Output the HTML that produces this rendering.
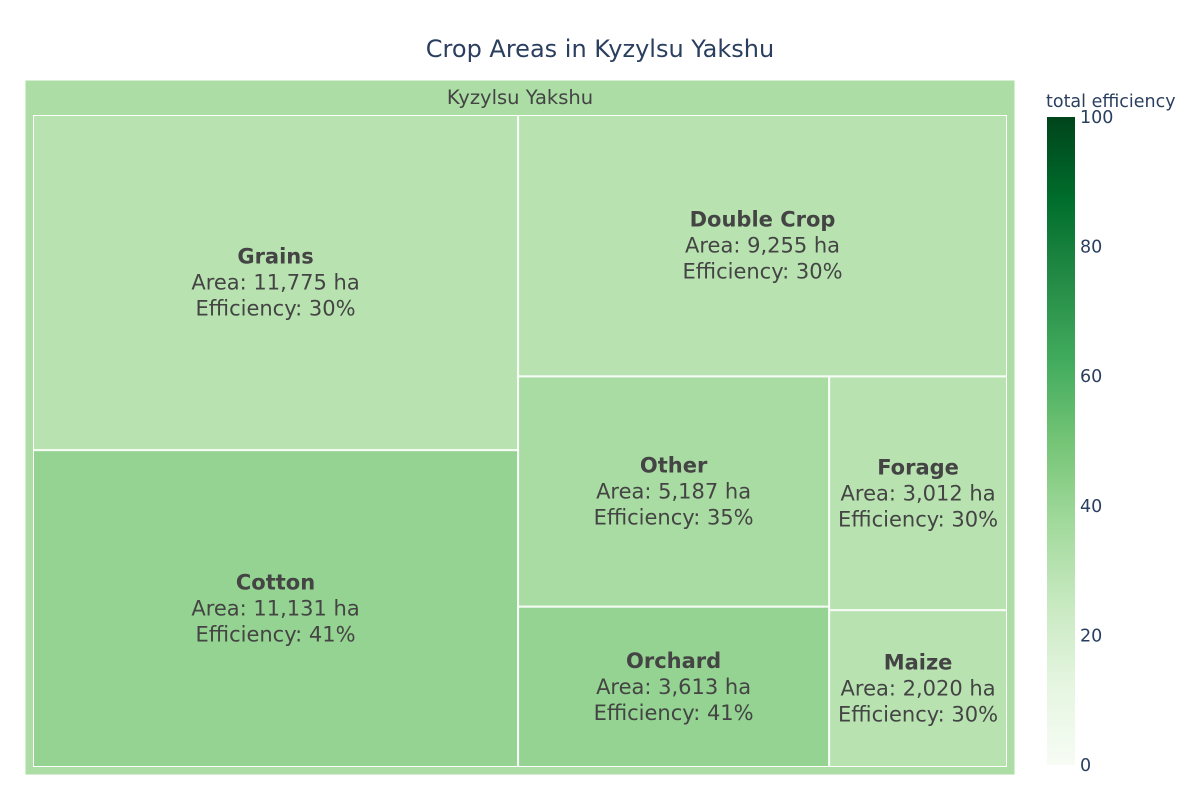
<!DOCTYPE html>
<html><head><meta charset="utf-8"><style>
body{margin:0;background:#fff;}
svg{font-family:"DejaVu Sans","Liberation Sans",sans-serif;}
</style></head><body>
<svg id="chart" width="1200" height="800">
<defs><linearGradient id="cb" x1="0" y1="1" x2="0" y2="0">
<stop offset="0" stop-color="rgb(247,252,245)"/><stop offset="0.125" stop-color="rgb(229,245,224)"/>
<stop offset="0.25" stop-color="rgb(199,233,192)"/><stop offset="0.375" stop-color="rgb(161,217,155)"/>
<stop offset="0.5" stop-color="rgb(116,196,118)"/><stop offset="0.625" stop-color="rgb(65,171,93)"/>
<stop offset="0.75" stop-color="rgb(35,139,69)"/><stop offset="0.875" stop-color="rgb(0,109,44)"/>
<stop offset="1" stop-color="rgb(0,68,27)"/></linearGradient></defs>
<text x="600" y="57" text-anchor="middle" font-size="24" fill="#2a3f5f">Crop Areas in Kyzylsu Yakshu</text>
<g id="tiles"></g>
<text x="1046" y="107" font-size="17.5" fill="#2a3f5f">total efficiency</text>
<rect x="1047" y="117" width="28" height="648" fill="url(#cb)"/>
<g id="cbticks"></g>
</svg>
<script>
const rootName = "Kyzylsu Yakshu";
const crops = ["Grains","Cotton","Double Crop","Other","Orchard","Forage","Maize"];
const areas = [11775,11131,9255,5187,3613,3012,2020];
const effs = [30,41,30,35,41,30,30];
const cbTicks = [0,20,40,60,80,100];
const NS="http://www.w3.org/2000/svg";
const scale=[[0,[247,252,245]],[0.125,[229,245,224]],[0.25,[199,233,192]],[0.375,[161,217,155]],[0.5,[116,196,118]],[0.625,[65,171,93]],[0.75,[35,139,69]],[0.875,[0,109,44]],[1,[0,68,27]]];
function color(v){const t=Math.max(0,Math.min(1,v/100));for(let i=1;i<scale.length;i++){if(t<=scale[i][0]){const a=scale[i-1],b=scale[i],f=(t-a[0])/(b[0]-a[0]);return 'rgb('+a[1].map((c,k)=>Math.round(c+(b[1][k]-c)*f)).join(',')+')';}}return 'rgb(0,68,27)';}
function el(tag,attrs,parent){const e=document.createElementNS(NS,tag);for(const k in attrs)e.setAttribute(k,attrs[k]);parent.appendChild(e);return e;}
const tiles=document.getElementById('tiles');
const total=areas.reduce((a,b)=>a+b,0);
const rootEff=areas.reduce((s,a,i)=>s+a*effs[i],0)/total;
const rootRect=el('rect',{x:25,y:80,width:990,height:695,fill:color(rootEff),stroke:'#fff','stroke-width':1},tiles);


const rl=el('text',{x:520,y:104,'text-anchor':'middle','font-size':19.5,fill:'#444'},tiles);
rl.textContent=rootName;


function worst(row,w,sc){const s=row.reduce((a,b)=>a+b,0)*sc;const mx=Math.max(...row)*sc,mn=Math.min(...row)*sc;return Math.max(w*w*mx/(s*s),s*s/(w*w*mn));}
const rects=[];
(function(){let x=33,y=115,W=974,H=652;let idx=0;const sc=(W*H)/total;
while(idx<areas.length){const w=Math.min(W,H);let row=[areas[idx]];let j=idx+1;
while(j<areas.length&&worst(row.concat(areas[j]),w,sc)<=worst(row,w,sc)){row.push(areas[j]);j++;}
const s=row.reduce((a,b)=>a+b,0)*sc;
if(W>=H){const cw=s/H;let yy=y;row.forEach((v,k)=>{const h=v*sc/cw;rects[idx+k]=[x,yy,cw,h];yy+=h;});x+=cw;W-=cw;}
else{const rh=s/W;let xx=x;row.forEach((v,k)=>{const ww=v*sc/rh;rects[idx+k]=[xx,y,ww,rh];xx+=ww;});y+=rh;H-=rh;}
idx=j;}})();
crops.forEach((c,i)=>{const [x,y,w,h]=rects[i];
const r=el('rect',{x:x+0.5,y:y+0.5,width:w-1,height:h-1,fill:color(effs[i]),stroke:'#fff','stroke-width':1},tiles);


const cx=x+w/2,cy=y+h/2;
const t=el('text',{x:cx,y:cy-26+7,'text-anchor':'middle','font-size':21,fill:'#444','font-weight':'bold'},tiles);t.textContent=c;


const t2=el('text',{x:cx,y:cy+7,'text-anchor':'middle','font-size':21,fill:'#444'},tiles);t2.textContent='Area: '+areas[i].toLocaleString('en-US')+' ha';


const t3=el('text',{x:cx,y:cy+26+7,'text-anchor':'middle','font-size':21,fill:'#444'},tiles);t3.textContent='Efficiency: '+effs[i]+'%';


});
const cbg=document.getElementById('cbticks');
cbTicks.forEach(v=>{const y=765-v/100*648;
const t=el('text',{x:1080,y:y+6,'font-size':17.5,fill:'#2a3f5f'},cbg);t.textContent=v;

});
</script>
</body></html>
